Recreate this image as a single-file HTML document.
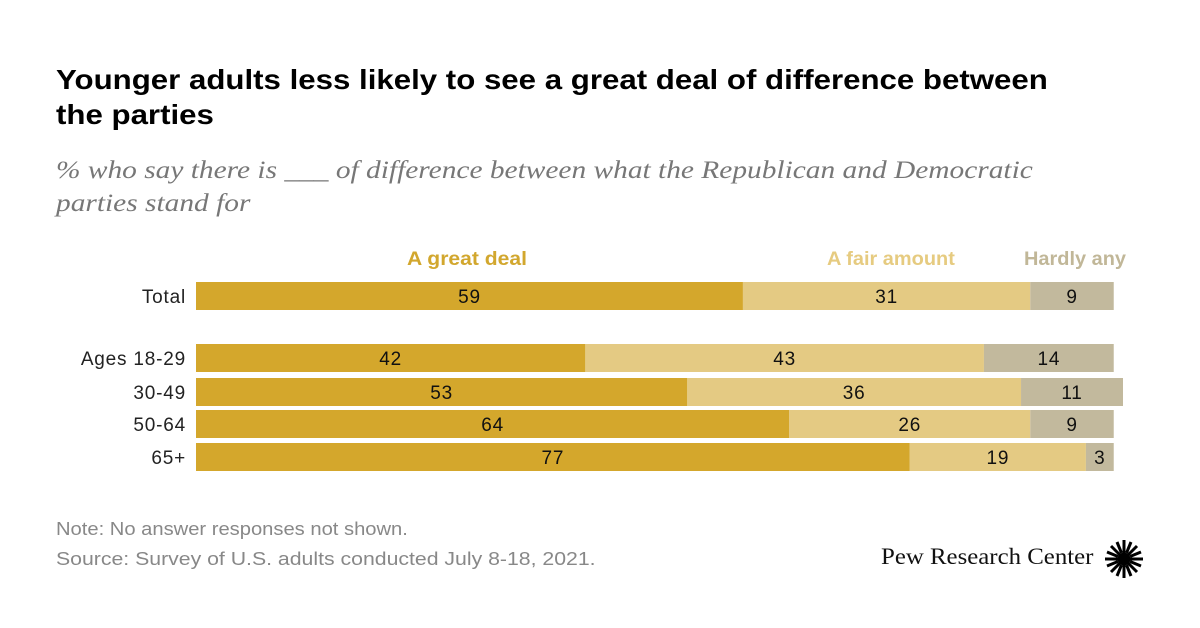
<!DOCTYPE html>
<html><head><meta charset="utf-8"><style>
body{margin:0;width:1200px;height:628px;background:#fff;font-family:"Liberation Sans",sans-serif;position:relative;overflow:hidden}
.t{position:absolute;white-space:nowrap;transform-origin:0 0}
</style></head><body>
<div class="t" style="left:56px;top:62px;font-size:28px;font-weight:bold;line-height:35px;color:#000;transform:scaleX(1.115)">Younger adults less likely to see a great deal of difference between<br>the parties</div>
<div class="t" style="left:56px;top:154px;font-size:25px;font-style:italic;font-family:'Liberation Serif',serif;color:#777;line-height:33px;transform:scaleX(1.176)">% who say there is ___ of difference between what the Republican and Democratic<br>parties stand for</div>
<div class="t" style="left:407px;top:249px;font-size:19px;font-weight:bold;color:#d2a72e;transform:scaleX(1.11)">A great deal</div>
<div class="t" style="left:827px;top:249px;font-size:19px;font-weight:bold;color:#e6cb80;transform:scaleX(1.05)">A fair amount</div>
<div class="t" style="left:1024px;top:249px;font-size:19px;font-weight:bold;color:#c1b798;transform:scaleX(1.05)">Hardly any</div>
<svg id="chart" width="1200" height="628" style="position:absolute;left:0;top:0"></svg>
<div class="t" style="left:56px;top:519px;font-size:18px;color:#888;transform:scaleX(1.12)">Note: No answer responses not shown.</div>
<div class="t" style="left:56px;top:549px;font-size:18px;color:#888;transform:scaleX(1.18)">Source: Survey of U.S. adults conducted July 8-18, 2021.</div>
<div class="t" style="left:881px;top:544px;font-size:23px;font-family:'Liberation Serif',serif;color:#111;transform:scaleX(1.08)">Pew Research Center</div>
<svg width="44" height="44" style="position:absolute;left:1102px;top:537px">
<g transform="translate(22,22)" stroke="#000" stroke-width="3">
<line x1="0" y1="-6" x2="0" y2="-19"/><line x1="0" y1="6" x2="0" y2="19"/><line x1="-6" y1="0" x2="-19" y2="0"/><line x1="6" y1="0" x2="19" y2="0"/>
<line x1="4" y1="4" x2="13" y2="13"/><line x1="-4" y1="-4" x2="-13" y2="-13"/><line x1="4" y1="-4" x2="13" y2="-13"/><line x1="-4" y1="4" x2="-13" y2="13"/>
<line x1="2.5" y1="-6" x2="7" y2="-17"/><line x1="-2.5" y1="6" x2="-7" y2="17"/><line x1="6" y1="2.5" x2="17" y2="7"/><line x1="-6" y1="-2.5" x2="-17" y2="-7"/>
<line x1="-2.5" y1="-6" x2="-7" y2="-17"/><line x1="2.5" y1="6" x2="7" y2="17"/><line x1="6" y1="-2.5" x2="17" y2="-7"/><line x1="-6" y1="2.5" x2="-17" y2="7"/>
<circle r="5" fill="#000"/></g></svg>
<script>
const categories=["Total","Ages 18-29","30-49","50-64","65+"];
const greatDeal=[59,42,53,64,77];
const fairAmount=[31,43,36,26,19];
const hardlyAny=[9,14,11,9,3];
const rowY=[296,358,392,424,457];
const svg=document.getElementById('chart');
const NS='http://www.w3.org/2000/svg';
const x0=196,scale=9.27,bh=28;
const xs=v=>v*scale;
const series=[[greatDeal,'#d4a72c','great-deal'],[fairAmount,'#e4ca83','fair-amount'],[hardlyAny,'#c2b99d','hardly-any']];
categories.forEach((c,i)=>{
 const lab=document.createElementNS(NS,'text');
 
 
 lab.setAttribute('x',186);lab.setAttribute('y',rowY[i]+7);lab.setAttribute('text-anchor','end');
 lab.setAttribute('font-size','19');lab.setAttribute('letter-spacing','0.8');lab.setAttribute('fill','#222');lab.textContent=c;svg.appendChild(lab);
 let x=x0;
 series.forEach(([arr,col,nm])=>{
  const w=xs(arr[i]);
  const r=document.createElementNS(NS,'rect');
  
  
  r.setAttribute('x',x);r.setAttribute('y',rowY[i]-bh/2);r.setAttribute('width',w);r.setAttribute('height',bh);r.setAttribute('fill',col);
  svg.appendChild(r);
  const t=document.createElementNS(NS,'text');
  
  
  t.setAttribute('x',x+w/2);t.setAttribute('y',rowY[i]+7);t.setAttribute('text-anchor','middle');
  t.setAttribute('font-size','19');t.setAttribute('letter-spacing','0.8');t.setAttribute('fill','#111');t.textContent=arr[i];svg.appendChild(t);
  x+=w;
 });
});
</script>
</body></html>
